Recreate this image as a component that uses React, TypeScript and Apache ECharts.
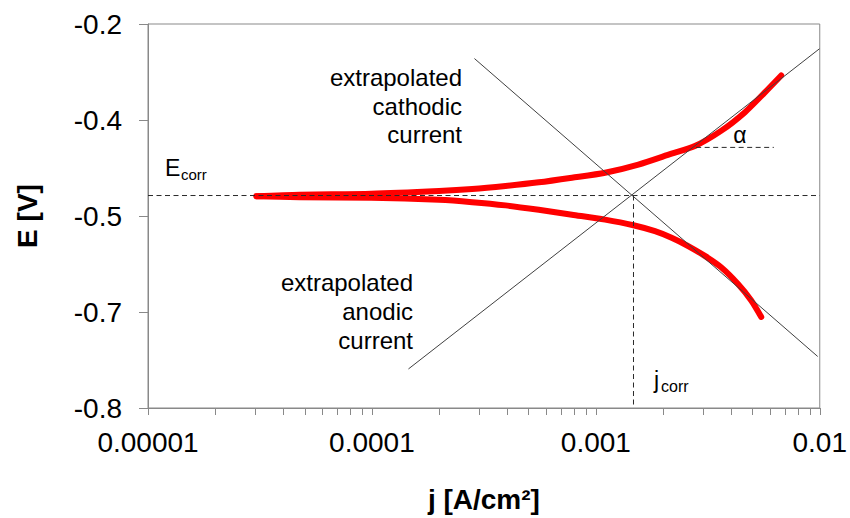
import React, { useEffect, useRef } from "react";
import * as echarts from "echarts";

// Polarization curve: lower (cathodic) branch and upper (anodic) branch, j [A/cm²], E [V]
const lowerJ = [3.05e-5, 4.75e-5, 9.93e-5, 1.994e-4, 2.805e-4, 3.95e-4, 5.56e-4, 7.82e-4, 1.1e-3, 1.472e-3, 1.837e-3, 2.179e-3, 2.585e-3, 3.067e-3, 3.637e-3, 4.315e-3, 4.944e-3, 5.48e-3];
const lowerE = [-0.469, -0.4706, -0.4714, -0.4748, -0.4784, -0.4834, -0.4903, -0.498, -0.5057, -0.5144, -0.5237, -0.534, -0.5469, -0.5623, -0.5804, -0.6062, -0.6319, -0.6577];
const upperJ = [3.05e-5, 4.75e-5, 9.93e-5, 1.994e-4, 2.805e-4, 3.95e-4, 5.56e-4, 7.82e-4, 1.1e-3, 1.549e-3, 2.179e-3, 2.769e-3, 3.637e-3, 4.623e-3, 5.675e-3, 6.727e-3];
const upperE = [-0.469, -0.4667, -0.4652, -0.4609, -0.4578, -0.4531, -0.4474, -0.4402, -0.4324, -0.4196, -0.4026, -0.3907, -0.3666, -0.3381, -0.3072, -0.2804];

// Extrapolated Tafel lines (start/end points)
const cathodicLineJ = [2.87e-4, 9.79e-3];
const cathodicLineE = [-0.254, -0.7195];
const anodicLineJ = [1.456e-4, 9.97e-3];
const anodicLineE = [-0.739, -0.2387];

// Corrosion point and slope marker
const eCorr = -0.468;
const jCorr = 1.473e-3;
const alphaJ = [2.806e-3, 6.237e-3];
const alphaE = -0.3928;

// Axes
const xMin = 0.00001;
const xMax = 0.01;
const xTickLabels = ["0.00001", "0.0001", "0.001", "0.01"];
const xMajorValues = [0.00001, 0.0001, 0.001, 0.01];
const xMinorMultipliers = [1, 2, 3, 4, 5, 6, 7, 8, 9];
const yMin = -0.8;
const yMax = -0.2;
const yInterval = 0.15;
const yTickLabels = ["-0.8", "-0.7", "-0.5", "-0.4", "-0.2"];

const FONT = '"Liberation Sans", Arial, Helvetica, sans-serif';
const AXIS_COLOR = "#898989";
const LINE_COLOR = "#404040";
const DASH_COLOR = "#2a2a2a";

export default function App() {
  const ref = useRef<HTMLDivElement>(null);

  useEffect(() => {
    if (!ref.current) return;
    const chart = echarts.init(ref.current, null, { renderer: "svg" });

    const xTickValues: number[] = [];
    for (let d = 0; d < xMajorValues.length - 1; d++) {
      for (const m of xMinorMultipliers) xTickValues.push(xMajorValues[d] * m);
    }
    xTickValues.push(xMajorValues[xMajorValues.length - 1]);

    const toPairs = (js: number[], es: number[]) => js.map((j, i) => [j, es[i]]);
    const dashed = { color: DASH_COLOR, width: 1, type: [5, 3.5] as any };

    const option: any = {
      animation: false,
      backgroundColor: "#ffffff",
      grid: {
        left: 148,
        right: 28,
        top: 24,
        bottom: 106,
        show: true,
        borderColor: AXIS_COLOR,
        borderWidth: 1,
        backgroundColor: "transparent",
      },
      xAxis: {
        type: "log",
        logBase: 10,
        min: xMin,
        max: xMax,
        name: "j [A/cm²]",
        nameLocation: "middle",
        nameGap: 77,
        nameTextStyle: { fontFamily: FONT, fontSize: 28, fontWeight: "bold", color: "#000" },
        axisLine: { show: true, lineStyle: { color: AXIS_COLOR, width: 1 } },
        axisTick: { show: false },
        axisLabel: {
          show: true,
          margin: 20,
          fontFamily: FONT,
          fontSize: 28,
          color: "#000",
          customValues: xMajorValues,
          formatter: (v: number) => xTickLabels[Math.round(Math.log10(v)) + 5],
        },
        splitLine: { show: false },
        minorTick: { show: false },
      },
      yAxis: {
        type: "value",
        min: yMin,
        max: yMax,
        interval: yInterval,
        name: "E [V]",
        nameLocation: "middle",
        nameGap: 107,
        nameTextStyle: { fontFamily: FONT, fontSize: 28, fontWeight: "bold", color: "#000" },
        axisLine: { show: true, lineStyle: { color: AXIS_COLOR, width: 1 } },
        axisTick: { show: true, inside: false, length: 9, lineStyle: { color: AXIS_COLOR } },
        axisLabel: {
          margin: 26,
          fontFamily: FONT,
          fontSize: 28,
          color: "#000",
          formatter: (v: number) => yTickLabels[Math.round((v - yMin) / yInterval)],
        },
        splitLine: { show: false },
      },
      series: [
        {
          // x-axis major and minor (2..9) ticks of the log scale
          type: "custom",
          coordinateSystem: "cartesian2d",
          clip: false,
          silent: true,
          data: xTickValues.map((v) => [v, yMin]),
          renderItem: (_params: any, api: any) => {
            const p = api.coord([api.value(0), api.value(1)]);
            const x = Math.round(p[0]) + 0.5;
            return {
              type: "line",
              shape: { x1: x, y1: p[1], x2: x, y2: p[1] + 7 },
              style: { stroke: AXIS_COLOR, lineWidth: 1 },
            };
          },
          z: 1,
        },
        {
          type: "line",
          data: toPairs(lowerJ, lowerE),
          symbol: "none",
          smooth: 0.25,
          lineStyle: { color: "#ff0000", width: 6, cap: "round", join: "round" },
          z: 2,
        },
        {
          type: "line",
          data: toPairs(upperJ, upperE),
          symbol: "none",
          smooth: 0.25,
          lineStyle: { color: "#ff0000", width: 6, cap: "round", join: "round" },
          z: 2,
        },
        {
          type: "line",
          data: toPairs(cathodicLineJ, cathodicLineE),
          symbol: "none",
          lineStyle: { color: LINE_COLOR, width: 1 },
          z: 3,
        },
        {
          type: "line",
          data: toPairs(anodicLineJ, anodicLineE),
          symbol: "none",
          lineStyle: { color: LINE_COLOR, width: 1 },
          z: 3,
        },
        {
          type: "line",
          data: [[xMin, eCorr], [xMax, eCorr]],
          symbol: "none",
          lineStyle: dashed,
          z: 3,
        },
        {
          type: "line",
          data: [[jCorr, eCorr], [jCorr, yMin]],
          symbol: "none",
          lineStyle: dashed,
          z: 3,
        },
        {
          type: "line",
          data: [[alphaJ[0], alphaE], [alphaJ[1], alphaE]],
          symbol: "none",
          lineStyle: dashed,
          z: 3,
        },
      ],
      graphic: [
        {
          type: "text",
          x: 462,
          y: 106,
          style: {
            text: "extrapolated\ncathodic\ncurrent",
            fontFamily: FONT,
            fontSize: 24,
            lineHeight: 28.5,
            fill: "#000",
            align: "right",
            verticalAlign: "middle",
            textAlign: "right",
          },
        },
        {
          type: "text",
          x: 413,
          y: 311,
          style: {
            text: "extrapolated\nanodic\ncurrent",
            fontFamily: FONT,
            fontSize: 24,
            lineHeight: 29,
            fill: "#000",
            align: "right",
            verticalAlign: "middle",
            textAlign: "right",
          },
        },
        {
          type: "text",
          x: 165,
          y: 168,
          style: { text: "E", fontFamily: FONT, fontSize: 23, fill: "#000", align: "left", verticalAlign: "middle" },
        },
        {
          type: "text",
          x: 181,
          y: 174,
          style: { text: "corr", fontFamily: FONT, fontSize: 15, fill: "#000", align: "left", verticalAlign: "middle" },
        },
        {
          type: "text",
          x: 654,
          y: 380,
          style: { text: "j", fontFamily: FONT, fontSize: 23, fill: "#000", align: "left", verticalAlign: "middle" },
        },
        {
          type: "text",
          x: 661,
          y: 386,
          style: { text: "corr", fontFamily: FONT, fontSize: 16, fill: "#000", align: "left", verticalAlign: "middle" },
        },
        {
          type: "text",
          x: 740,
          y: 135,
          style: { text: "α", fontFamily: FONT, fontSize: 23, fill: "#000", align: "center", verticalAlign: "middle" },
        },
      ],
    };

    chart.setOption(option);
    return () => chart.dispose();
  }, []);

  return (
    <div
      ref={ref}
      style={{ position: "absolute", left: 0, top: 0, width: 850, height: 518, background: "#fff" }}
    />
  );
}
